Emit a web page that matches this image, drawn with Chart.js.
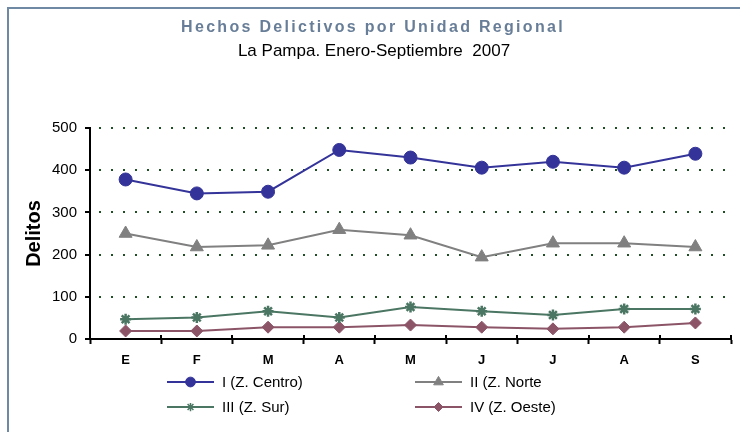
<!DOCTYPE html>
<html lang="es">
<head>
<meta charset="UTF-8">
<title>Hechos Delictivos por Unidad Regional</title>
<script src="https://cdn.jsdelivr.net/npm/chart.js@4.4.0/dist/chart.umd.min.js"></script>
<style>
  body { margin: 0; background: #fff; }
  .wrap { position: relative; width: 740px; height: 432px; overflow: hidden; }
  .frame { position: absolute; left: 7px; top: 7px; width: 800px; height: 500px; border: 2px solid #6f88a3; }
  canvas { position: absolute; left: 0; top: 0; }
</style>
</head>
<body>
<div class="wrap">
  <div class="frame"></div>
  <canvas id="chart" width="740" height="432"></canvas>
</div>
<script>
// data
var months = ["E", "F", "M", "A", "M", "J", "J", "A", "S"];
var centro = [378, 345, 349, 448, 430, 406, 420, 406, 439];
var norte  = [250, 218, 222, 259, 246, 194, 227, 227, 218];
var sur    = [47, 51, 66, 51, 76, 66, 57, 71, 71];
var oeste  = [19, 19, 28, 28, 33, 28, 24, 28, 38];
var seriesNames = ["I (Z. Centro)", "II (Z. Norte", "III (Z. Sur)", "IV (Z. Oeste)"];
var yTicks = [0, 100, 200, 300, 400, 500];

var FONT = "'Liberation Sans', Arial, sans-serif";

// titles drawn at the top, with letter spacing on the first line
var titles = {
    id: 'titles',
    afterDraw: function(chart) {
        var ctx = chart.ctx;
        ctx.save();
        ctx.textBaseline = 'middle';
        ctx.textAlign = 'left';
        ctx.font = "bold 16px " + FONT;
        ctx.fillStyle = '#687e98';
        ctx.letterSpacing = '2.3px';
        var t = "Hechos Delictivos por Unidad Regional";
        var w = ctx.measureText(t).width;
        ctx.fillText(t, 373 - w / 2, 28);
        ctx.letterSpacing = '0px';
        ctx.font = "17px " + FONT;
        ctx.fillStyle = '#000';
        var s = "La Pampa. Enero-Septiembre  2007";
        w = ctx.measureText(s).width;
        ctx.fillText(s, 374 - w / 2, 51);
        ctx.restore();
    }
};

// ticks on the x axis cross the axis line, so draw the inner half too
var innerTicks = {
    id: 'innerTicks',
    afterDraw: function(chart) {
        var sx = chart.scales.x, ctx = chart.ctx, bottom = chart.chartArea.bottom;
        ctx.save();
        ctx.strokeStyle = '#000';
        ctx.lineWidth = 2;
        for (var i = 1; i <= months.length; i++) {
            var x = Math.round(sx.getPixelForTick(i - 1) + (sx.getPixelForTick(1) - sx.getPixelForTick(0)) / 2);
            ctx.beginPath();
            ctx.moveTo(x, bottom - 4);
            ctx.lineTo(x, bottom);
            ctx.stroke();
        }
        ctx.restore();
    }
};

// two-column legend under the axis
var legendBox = {
    id: 'legendBox',
    afterDraw: function(chart) {
        var ctx = chart.ctx;
        var pos = [[167, 382], [415, 382], [167, 407], [415, 407]];
        chart.data.datasets.forEach(function(ds, i) {
            var x = pos[i][0], y = pos[i][1];
            ctx.save();
            ctx.strokeStyle = ds.borderColor;
            ctx.lineWidth = 2;
            ctx.beginPath();
            ctx.moveTo(x, y);
            ctx.lineTo(x + 47, y);
            ctx.stroke();
            ctx.fillStyle = ds.pointBackgroundColor;
            ctx.strokeStyle = ds.pointBorderColor;
            ctx.lineWidth = ds.pointStyle === 'star' ? 1.5 : 1;
            Chart.helpers.drawPoint(ctx, {pointStyle: ds.pointStyle, radius: ds.pointRadius * 0.75, rotation: 0, borderWidth: 1}, x + 23.5, y);
            ctx.fillStyle = '#000';
            ctx.font = "15px " + FONT;
            ctx.textBaseline = 'middle';
            ctx.textAlign = 'left';
            ctx.fillText(ds.label, x + 55, y + 1);
            ctx.restore();
        });
    }
};

function makeSet(label, data, color, style, radius) {
    return {
        label: label,
        data: data,
        borderColor: color,
        backgroundColor: color,
        pointBackgroundColor: color,
        pointBorderColor: color,
        pointStyle: style,
        pointRadius: radius,
        pointBorderWidth: style === 'star' ? 2.5 : 1,
        borderWidth: 2,
        tension: 0
    };
}

var ctx = document.getElementById('chart').getContext('2d');
var chart = new Chart(ctx, {
    type: 'line',
    data: {
        labels: months,
        datasets: [
            makeSet(seriesNames[0], centro, '#333399', 'circle', 6.5),
            makeSet(seriesNames[1], norte, '#808080', 'triangle', 7.5),
            makeSet(seriesNames[2], sur, '#4b7663', 'star', 5.5),
            makeSet(seriesNames[3], oeste, '#8c5567', 'rectRot', 6)
        ]
    },
    options: {
        responsive: false,
        animation: false,
        devicePixelRatio: 1,
        layout: { padding: { top: 128, right: 9, bottom: 0, left: 0 } },
        plugins: {
            legend: { display: false },
            title: { display: false },
            tooltip: { enabled: false }
        },
        scales: {
            x: {
                offset: true,
                grid: { offset: true, drawOnChartArea: false, tickLength: 5, tickColor: '#000', tickWidth: 2 },
                border: { color: '#000', width: 2 },
                ticks: {
                    color: '#000', padding: 9, maxRotation: 0, autoSkip: false,
                    font: { family: FONT, weight: 'bold', size: 13 }
                },
                afterFit: function(s) { s.height = 93; }
            },
            y: {
                min: 0,
                max: 500,
                afterBuildTicks: function(s) { s.ticks = yTicks.map(function(v) { return {value: v}; }); },
                grid: {
                    color: function(c) { return c.tick && c.tick.value === 0 ? 'rgba(0,0,0,0)' : '#1f4f25'; },
                    lineWidth: 2,
                    tickLength: 5,
                    tickColor: '#000',
                    tickWidth: 2
                },
                border: { color: '#000', width: 2, dash: [2, 10], dashOffset: -8 },
                ticks: { color: '#000', padding: 8, font: { family: FONT, size: 15 } },
                title: {
                    display: true,
                    text: 'Delitos',
                    color: '#000',
                    font: { family: FONT, weight: 'bold', size: 20 },
                    padding: { top: 22, bottom: 0 }
                },
                afterFit: function(s) { s.width = 90; }
            }
        }
    },
    plugins: [titles, innerTicks, legendBox]
});
</script>
</body>
</html>
